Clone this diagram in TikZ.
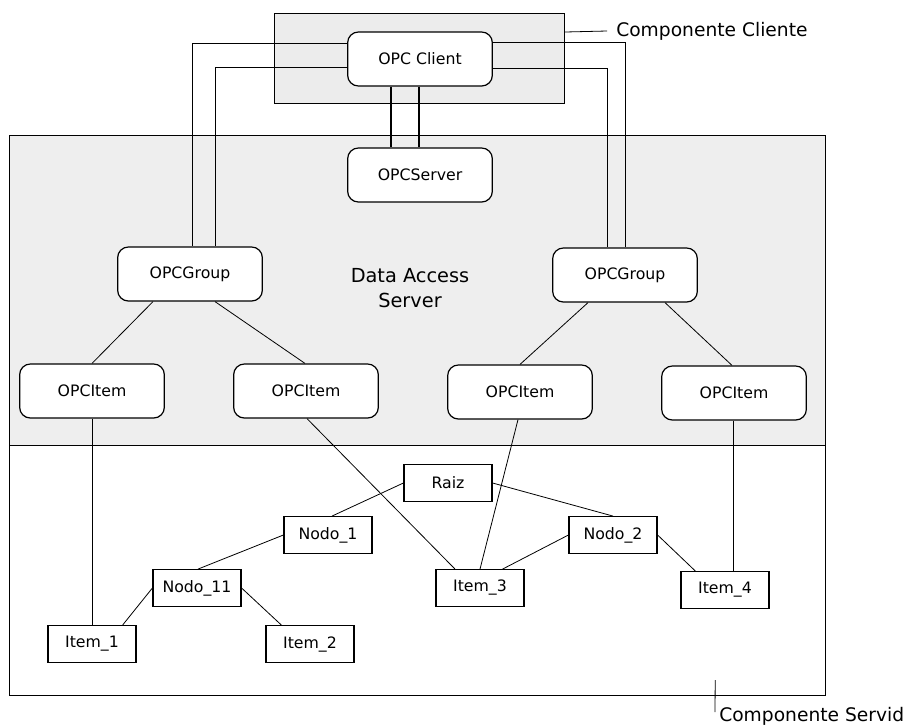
\documentclass[tikz,border=0pt]{standalone}
\usepackage{fontspec}
\setmainfont{DejaVu Sans}
\usetikzlibrary{calc}
\begin{document}
\begin{tikzpicture}[x=0.75pt,y=0.75pt,
  rbox/.style={draw=black, line width=0.9pt, fill=white, rounded corners=8pt,
    minimum width=108.5pt, minimum height=40.5pt, inner sep=0pt,
    font=\fontsize{11.8}{14}\selectfont},
  sbox/.style={draw=black, line width=0.9pt, fill=white,
    minimum width=66pt, minimum height=27.5pt, inner sep=0pt,
    font=\fontsize{11.8}{14}\selectfont},
  link/.style={draw=black, line width=0.6pt},
  tlink/.style={draw=black, line width=0.9pt},
  area/.style={draw=black, line width=0.9pt, inner sep=0pt},
  lbl/.style={font=\fontsize{14}{17}\selectfont, inner sep=0pt}
]
\useasboundingbox (0,0) rectangle (919,-726);
% areas
\node[area, fill=gray!13, minimum width=612pt, minimum height=232.5pt, anchor=north west] (upper) at (9,-135) {};
\node[area, fill=white, minimum width=612pt, minimum height=187.5pt, anchor=north west] (lower) at (9,-445) {};
\node[area, fill=gray!15, minimum width=217.5pt, minimum height=67.5pt, anchor=north west] (cbox) at (274,-13) {};
\node[font=\fontsize{14.5}{17}\selectfont, align=center, inner sep=0pt] (das) at (410,-288) {Data Access\\[2pt]Server};
% labels
\node[lbl, anchor=west] (lblc) at (616,-31) {Componente Cliente};
\draw[link] ($(cbox.north east)+(0,-19)$) -- ($(lblc.west)+(-9,0)$);
\node[lbl, anchor=west] (lbls) at (719,-716) {Componente Servid};
\coordinate (stop) at ($(lower.south east)+(-111,16)$);
\draw[link] (stop) -- ($(lbls.west)+(-4,4)$);
% OPC nodes
\node[rbox] (client) at (420,-59) {OPC Client};
\node[rbox] (server) at (420,-175) {OPCServer};
\node[rbox] (g1) at (190,-274) {OPCGroup};
\node[rbox] (g2) at (625,-275) {OPCGroup};
\node[rbox] (i1) at (92,-391) {OPCItem};
\node[rbox] (i2) at (306,-391) {OPCItem};
\node[rbox] (i3) at (520,-392) {OPCItem};
\node[rbox] (i4) at (734,-393) {OPCItem};
% tree nodes
\node[sbox] (raiz) at (448,-483) {Raiz};
\node[sbox] (n1) at (328,-535) {Nodo\_1};
\node[sbox] (n11) at (197,-588) {Nodo\_11};
\node[sbox] (it1) at (92,-644) {Item\_1};
\node[sbox] (it2) at (310,-644) {Item\_2};
\node[sbox] (it3) at (480,-588) {Item\_3};
\node[sbox] (n2) at (613,-535) {Nodo\_2};
\node[sbox] (it4) at (725,-590) {Item\_4};
% client connections
\draw[link] ($(client.west)+(0,16)$) -| ($(g1.north)+(2,0)$);
\draw[link] ($(client.west)+(0,-8)$) -| ($(g1.north)+(25,0)$);
\draw[link] ($(client.east)+(0,17)$) -| (g2.north);
\draw[link] ($(client.east)+(0,-9)$) -| ($(g2.north)+(-18,0)$);
\draw[tlink] ($(client.south)+(-29,0)$) -- ($(server.north)+(-29,0)$);
\draw[tlink] ($(client.south)+(-1,0)$) -- ($(server.north)+(-1,0)$);
% groups to items
\draw[link] ($(g1.south)+(-37,0)$) -- (i1.north);
\draw[link] ($(g1.south)+(25,0)$) -- ($(i2.north)+(-1,0)$);
\draw[link] ($(g2.south)+(-37,0)$) -- (i3.north);
\draw[link] ($(g2.south)+(40,0)$) -- ($(i4.north)+(-2,0)$);
% items to tree
\draw[link] (i1.south) -- (i1.south |- it1.north);
\draw[link] ($(i2.south)+(1,0)$) -- ($(it3.north)+(-25,0)$);
\draw[link] ($(i3.south)+(-2,0)$) -- (it3.north);
\draw[link] ($(i4.south)+(-1,0)$) -- ($(it4.north)+(8,0)$);
% tree
\draw[link] (raiz.west) -- ($(n1.north)+(4,0)$);
\draw[link] (raiz.east) -- (n2.north);
\draw[link] (n1.west) -- ($(n11.north)+(1,0)$);
\draw[link] (n11.west) -- ($(it1.north east)+(-14,0)$);
\draw[link] (n11.east) -- ($(it2.north west)+(16,0)$);
\draw[link] (n2.west) -- ($(it3.north east)+(-22,0)$);
\draw[link] (n2.east) -- ($(it4.north west)+(15,0)$);
\end{tikzpicture}
\end{document}
